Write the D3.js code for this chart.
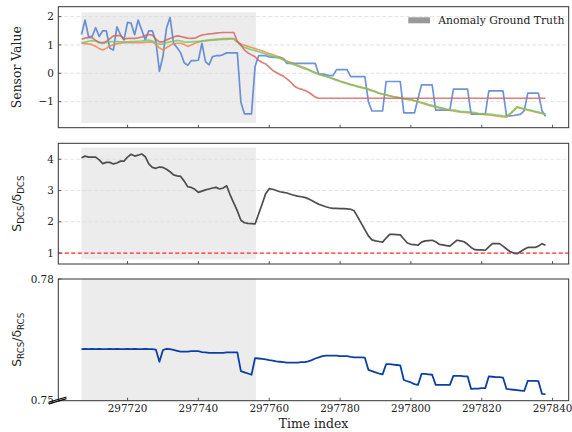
<!DOCTYPE html>
<html>
<head>
<meta charset="utf-8">
<script src="https://cdn.jsdelivr.net/npm/d3@7"></script>
<style>
  body { margin: 0; background: #fff; }
  svg { display: block; }
  text { font-family: "DejaVu Serif", serif; fill: #222; }
</style>
</head>
<body>
<svg id="chart" width="572" height="432"></svg>
<script>
// ---------------- DATA ----------------
const timeIndex = d3.range(297707, 297839);
const anomalySpan = [297707, 297756.25];
const xTicks = [297720, 297740, 297760, 297780, 297800, 297820, 297840];

const sensorBlue = [1.37,1.88,1.29,1.3,1.61,1.3,1.5,1.5,0.88,0.82,
  1.64,1.36,1.18,1.8,1.77,1.36,1.88,1.53,1.18,1.5,
  1.5,1.13,0.07,0.6,1.6,1.97,1.06,0.9,0.72,0.37,
  0.28,0.45,0.45,0.46,1.06,0.41,0.3,0.59,0.62,0.62,
  0.66,0.72,0.72,0.72,0.72,-1.02,-1.43,-1.43,-1.43,0.24,
  0.62,0.62,0.62,0.58,0.56,0.56,0.56,0.52,0.35,0.35,
  0.35,0.35,0.35,0.35,0.35,0.35,0.35,-0.03,-0.03,-0.05,
  -0.08,-0.08,0.13,0.13,0.13,0.13,-0.12,-0.12,-0.12,-0.12,
  -0.12,-1.0,-1.33,-1.33,-1.33,-1.33,-0.29,-0.29,-0.29,-0.29,
  -0.29,-1.4,-1.4,-1.4,-1.4,-0.9,-0.41,-0.41,-0.41,-0.41,
  -1.3,-1.3,-1.3,-1.3,-1.3,-0.56,-0.56,-0.56,-0.56,-0.56,
  -1.44,-1.44,-1.44,-1.44,-1.44,-0.62,-0.62,-0.62,-0.62,-0.62,
  -1.5,-1.5,-1.49,-1.47,-1.44,-1.32,-0.7,-0.7,-0.7,-0.7,
  -1.32,-1.52];

const sensorOrange = [1.06,1.05,1.04,1.01,0.95,0.87,0.82,0.88,0.96,1.01,
  1.04,1.06,1.08,1.08,1.08,1.08,1.08,1.08,1.09,1.1,
  1.11,1.02,0.9,0.82,0.9,0.98,1.05,1.06,1.06,1.02,
  0.95,1.0,1.06,1.1,1.13,1.15,1.17,1.19,1.2,1.21,
  1.22,1.22,1.23,1.22,1.12,1.03,0.99,0.95,0.91,0.87,
  0.83,0.79,0.74,0.7,0.66,0.61,0.57,0.5,0.43,0.39,
  0.34,0.28,0.24,0.19,0.14,0.08,0.03,-0.02,-0.06,-0.11,
  -0.15,-0.19,-0.22,-0.27,-0.31,-0.35,-0.39,-0.42,-0.46,-0.49,
  -0.52,-0.56,-0.6,-0.64,-0.7,-0.73,-0.76,-0.79,-0.82,-0.84,
  -0.87,-0.89,-0.91,-0.93,-0.97,-1.01,-1.05,-1.09,-1.13,-1.16,
  -1.19,-1.22,-1.25,-1.28,-1.31,-1.33,-1.35,-1.37,-1.38,-1.39,
  -1.4,-1.42,-1.43,-1.45,-1.46,-1.47,-1.49,-1.5,-1.52,-1.54,
  -1.55,-1.45,-1.33,-1.2,-1.24,-1.27,-1.3,-1.33,-1.36,-1.39,
  -1.42,-1.45];

const sensorGreen = [1.08,1.1,1.13,1.15,1.14,1.1,1.05,1.08,1.11,1.12,
  1.12,1.11,1.11,1.11,1.12,1.12,1.13,1.14,1.16,1.17,
  1.14,1.07,1.03,1.03,1.08,1.11,1.13,1.16,1.14,1.11,
  1.1,1.11,1.12,1.13,1.14,1.15,1.16,1.17,1.18,1.19,
  1.2,1.2,1.21,1.21,1.1,0.98,0.92,0.87,0.83,0.8,
  0.76,0.72,0.68,0.64,0.6,0.56,0.53,0.47,0.4,0.35,
  0.3,0.26,0.21,0.16,0.12,0.06,0.0,-0.04,-0.08,-0.1,
  -0.15,-0.2,-0.25,-0.29,-0.33,-0.37,-0.41,-0.44,-0.48,-0.51,
  -0.54,-0.58,-0.62,-0.66,-0.71,-0.74,-0.77,-0.8,-0.83,-0.85,
  -0.88,-0.9,-0.92,-0.94,-0.97,-1.0,-1.03,-1.06,-1.1,-1.13,
  -1.17,-1.2,-1.23,-1.26,-1.28,-1.3,-1.32,-1.34,-1.35,-1.36,
  -1.37,-1.39,-1.41,-1.42,-1.43,-1.44,-1.45,-1.47,-1.48,-1.5,
  -1.51,-1.42,-1.3,-1.18,-1.22,-1.25,-1.28,-1.31,-1.34,-1.37,
  -1.4,-1.43];

const sensorRed = [1.2,1.24,1.26,1.26,1.16,1.08,1.08,1.12,1.22,1.32,
  1.33,1.33,1.2,1.23,1.23,1.23,1.25,1.28,1.33,1.37,
  1.35,1.2,1.11,1.11,1.18,1.23,1.28,1.32,1.3,1.27,
  1.24,1.23,1.24,1.3,1.35,1.37,1.39,1.4,1.42,1.43,
  1.44,1.44,1.44,1.44,1.12,1.0,0.82,0.72,0.65,0.58,
  0.46,0.38,0.33,0.22,0.1,0.03,-0.04,-0.1,-0.2,-0.3,
  -0.45,-0.52,-0.56,-0.6,-0.66,-0.75,-0.84,-0.88,-0.88,-0.88,
  -0.88,-0.88,-0.88,-0.88,-0.88,-0.88,-0.88,-0.88,-0.88,-0.88,
  -0.88,-0.88,-0.88,-0.88,-0.88,-0.88,-0.88,-0.88,-0.88,-0.88,
  -0.88,-0.88,-0.88,-0.88,-0.88,-0.88,-0.88,-0.88,-0.88,-0.88,
  -0.88,-0.88,-0.88,-0.88,-0.88,-0.88,-0.88,-0.88,-0.88,-0.88,
  -0.88,-0.88,-0.88,-0.88,-0.88,-0.88,-0.88,-0.88,-0.88,-0.88,
  -0.88,-0.88,-0.88,-0.88,-0.88,-0.88,-0.88,-0.88,-0.88,-0.88,
  -0.88,-0.88];

const dcsRatio = [4.05,4.1,4.07,4.07,4.07,3.98,3.86,3.9,3.9,3.85,
  3.88,3.94,3.94,4.07,4.16,4.1,4.13,4.17,4.08,3.85,
  3.74,3.71,3.75,3.74,3.68,3.6,3.5,3.47,3.45,3.3,
  3.12,3.1,3.04,2.94,2.98,3.02,3.05,3.08,3.1,3.05,
  3.08,3.15,2.85,2.6,2.35,2.05,1.97,1.95,1.94,1.93,
  2.25,2.57,2.9,3.06,3.04,3.0,2.96,2.94,2.92,2.88,
  2.85,2.82,2.8,2.78,2.74,2.68,2.62,2.56,2.52,2.48,
  2.45,2.43,2.43,2.42,2.42,2.41,2.4,2.35,2.15,1.95,
  1.75,1.55,1.42,1.39,1.37,1.35,1.48,1.6,1.6,1.59,
  1.58,1.45,1.32,1.28,1.27,1.25,1.35,1.39,1.4,1.41,
  1.36,1.28,1.26,1.24,1.22,1.32,1.41,1.39,1.36,1.28,
  1.18,1.11,1.1,1.1,1.09,1.2,1.3,1.3,1.3,1.22,
  1.13,1.05,1.0,0.98,1.05,1.12,1.18,1.18,1.18,1.22,
  1.3,1.25];

const rcsRatio = [0.7627,0.7628,0.7627,0.7628,0.7627,0.7628,0.7627,0.7627,0.7628,0.7627,
  0.7628,0.7627,0.7627,0.7628,0.7627,0.7628,0.7627,0.7627,0.7628,0.7627,
  0.7627,0.7626,0.7596,0.7625,0.7628,0.7627,0.7625,0.7623,0.7621,0.7621,
  0.7621,0.7622,0.7622,0.7622,0.762,0.7619,0.7618,0.7618,0.7618,0.7618,
  0.7618,0.7619,0.7619,0.7619,0.7619,0.7573,0.757,0.7567,0.7564,0.7605,
  0.7604,0.7603,0.7602,0.76,0.7599,0.7597,0.7596,0.7595,0.7594,0.7594,
  0.7594,0.7594,0.7595,0.7595,0.7597,0.76,0.7604,0.7607,0.761,0.7611,
  0.7611,0.7611,0.7611,0.761,0.761,0.761,0.7608,0.7607,0.7607,0.7607,
  0.7606,0.7576,0.7573,0.757,0.7567,0.7565,0.759,0.759,0.7589,0.7588,
  0.7587,0.7551,0.7548,0.7545,0.7541,0.7539,0.7566,0.7566,0.7565,0.7564,
  0.7539,0.7539,0.7539,0.7539,0.7539,0.7561,0.7561,0.7561,0.756,0.756,
  0.7529,0.753,0.753,0.7531,0.7531,0.756,0.7559,0.7558,0.7558,0.7557,
  0.7529,0.7528,0.7527,0.7526,0.7525,0.7524,0.7549,0.7549,0.7549,0.7548,
  0.7517,0.7516];

const sensorTicks = [-1, 0, 1, 2];
const dcsTicks = [1, 2, 3, 4];
const rcsTicks = [0.75, 0.78];
const dcsThreshold = 1;

// ---------------- LAYOUT ----------------
const left = 58.3, right = 568.7;
const panels = {
  top: { y0: 6.7, y1: 127.7, domain: [-1.92, 2.35], shade: [-1.75, 2.15] },
  mid: { y0: 143.3, y1: 264, domain: [0.65, 4.51], shade: [0.8, 4.37] },
  bot: { y0: 279, y1: 400.7, domain: [0.75, 0.78], shade: [0.75, 0.78] }
};

const svg = d3.select("#chart");
const x = d3.scaleLinear().domain([297700.45, 297844.55]).range([left, right]);

function makeY(p) {
  return d3.scaleLinear().domain(p.domain).range([p.y1, p.y0]);
}

function drawPanel(p, yTicks, fmt, showGrid) {
  const y = makeY(p);
  const g = svg.append("g");
  const clipId = "clip" + Math.round(p.y0);
  svg.append("clipPath").attr("id", clipId)
    .append("rect").attr("x", left).attr("y", p.y0)
    .attr("width", right - left).attr("height", p.y1 - p.y0);

  // anomaly shade
  g.append("rect")
    .attr("x", x(anomalySpan[0]))
    .attr("width", x(anomalySpan[1]) - x(anomalySpan[0]))
    .attr("y", y(p.shade[1]))
    .attr("height", y(p.shade[0]) - y(p.shade[1]))
    .attr("fill", "#ececec");

  if (showGrid) {
    g.selectAll(".grid").data(yTicks).enter().append("line")
      .attr("x1", left).attr("x2", right)
      .attr("y1", (d) => y(d)).attr("y2", (d) => y(d))
      .attr("stroke", "#dcdcdc").attr("stroke-width", 0.8)
      .attr("stroke-dasharray", "4,2");
  }

  // y ticks + labels
  g.selectAll(".yt").data(yTicks).enter().append("line")
    .attr("x1", left).attr("x2", left + 3)
    .attr("y1", (d) => y(d)).attr("y2", (d) => y(d))
    .attr("stroke", "#333").attr("stroke-width", 0.8);
  g.selectAll(".yl").data(yTicks).enter().append("text")
    .attr("x", left - 4.5).attr("y", (d) => y(d))
    .attr("dy", "0.35em").attr("text-anchor", "end")
    .style("font-size", "10.4px")
    .text(fmt);

  // x ticks (inward)
  g.selectAll(".xt").data(xTicks).enter().append("line")
    .attr("x1", (d) => x(d)).attr("x2", (d) => x(d))
    .attr("y1", p.y1).attr("y2", p.y1 - 3)
    .attr("stroke", "#333").attr("stroke-width", 0.8);

  return { g, y, clipId };
}

function drawLine(panel, values, color, width, opacity) {
  const line = d3.line()
    .x((d, i) => x(timeIndex[i]))
    .y((d) => panel.y(d));
  panel.g.append("path")
    .datum(values)
    .attr("d", line)
    .attr("fill", "none")
    .attr("stroke", color)
    .attr("stroke-width", width)
    .attr("stroke-opacity", opacity)
    .attr("stroke-linejoin", "round")
    .attr("clip-path", `url(#${panel.clipId})`);
}

function drawFrame(p) {
  svg.append("rect")
    .attr("x", left).attr("y", p.y0)
    .attr("width", right - left).attr("height", p.y1 - p.y0)
    .attr("fill", "none").attr("stroke", "#333").attr("stroke-width", 1);
}

// ---------------- TOP PANEL ----------------
const topP = drawPanel(panels.top, sensorTicks, d3.format("d"), true);
drawLine(topP, sensorBlue, "#4878d0", 1.7, 0.8);
drawLine(topP, sensorOrange, "#ee854a", 1.7, 0.8);
drawLine(topP, sensorGreen, "#6acc64", 1.7, 0.8);
drawLine(topP, sensorRed, "#d65f5f", 1.7, 0.8);
drawFrame(panels.top);

// legend
svg.append("rect").attr("x", 408.3).attr("y", 17.3)
  .attr("width", 21.7).attr("height", 6).attr("fill", "#999");
svg.append("text").attr("x", 438.3).attr("y", 24.4)
  .style("font-size", "10.8px").text("Anomaly Ground Truth");

svg.append("text")
  .attr("transform", `translate(20.5,${(panels.top.y0 + panels.top.y1) / 2}) rotate(-90)`)
  .attr("text-anchor", "middle")
  .style("font-size", "12.4px")
  .text("Sensor Value");

// ---------------- MIDDLE PANEL ----------------
const midP = drawPanel(panels.mid, dcsTicks, d3.format("d"), true);
midP.g.append("line")
  .attr("x1", left).attr("x2", right)
  .attr("y1", midP.y(dcsThreshold)).attr("y2", midP.y(dcsThreshold))
  .attr("stroke", "#ff2a2a").attr("stroke-width", 1.3)
  .attr("stroke-dasharray", "4,2.5");
drawLine(midP, dcsRatio, "#4d4d4d", 1.7, 1);
drawFrame(panels.mid);

function ratioLabel(cy, sub) {
  const t = svg.append("text")
    .attr("transform", `translate(21,${cy}) rotate(-90)`)
    .attr("text-anchor", "middle")
    .style("font-family", "'DejaVu Sans', sans-serif")
    .style("font-size", "12.4px");
  t.append("tspan").text("S");
  t.append("tspan").attr("dy", 3).style("font-size", "8.7px").text(sub);
  t.append("tspan").attr("dy", -3).text("/δ");
  t.append("tspan").attr("dy", 3).style("font-size", "8.7px").text(sub);
}
ratioLabel((panels.mid.y0 + panels.mid.y1) / 2, "DCS");

// ---------------- BOTTOM PANEL ----------------
const botP = drawPanel(panels.bot, rcsTicks, d3.format(".2f"), false);
drawLine(botP, rcsRatio, "#0b3fa3", 1.8, 1);
drawFrame(panels.bot);
ratioLabel((panels.bot.y0 + panels.bot.y1) / 2, "RCS");

// axis break mark
[0, 1.6].forEach((off) => {
  svg.append("line")
    .attr("x1", 49).attr("y1", 403.8 - off)
    .attr("x2", 66.5).attr("y2", 398.6 - off)
    .attr("stroke", "#111").attr("stroke-width", 1.3);
});

// x tick labels + label
svg.selectAll(".xl").data(xTicks).enter().append("text")
  .attr("x", (d) => x(d)).attr("y", 411.8)
  .attr("text-anchor", "middle")
  .style("font-size", "10.4px")
  .text((d) => d);

svg.append("text")
  .attr("x", (left + right) / 2).attr("y", 427.5)
  .attr("text-anchor", "middle")
  .style("font-size", "12.4px")
  .text("Time index");
</script>
</body>
</html>
